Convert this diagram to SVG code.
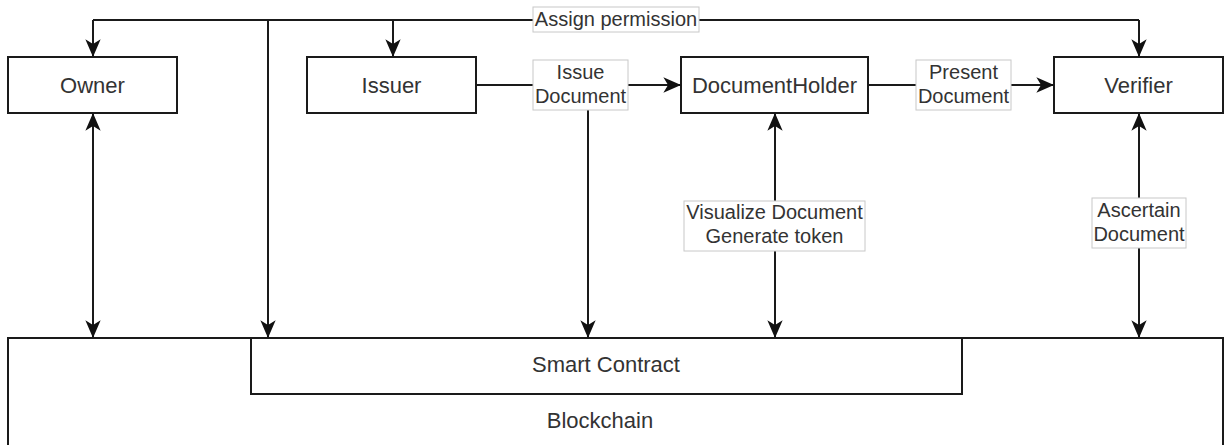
<svg xmlns="http://www.w3.org/2000/svg" width="1225" height="445" viewBox="0 0 1225 445">
  <defs>
    <marker id="arrow" markerUnits="userSpaceOnUse" markerWidth="20" markerHeight="20" viewBox="-16 -8 17 16" refX="0" refY="0" orient="auto-start-reverse">
      <path d="M0,0 L-15,-6.5 L-11,0 L-15,6.5 Z" fill="#111"/>
    </marker>
  </defs>
  <style>
    .box { fill: #ffffff; stroke: #1a1a1a; stroke-width: 2; }
    .node-text { font-family: "Liberation Sans", Arial, sans-serif; font-size: 22px; fill: #333; text-anchor: middle; }
    .edge { fill: none; stroke: #1a1a1a; stroke-width: 2; }
    .lbl-bg { fill: #ffffff; stroke: #c8c8c8; stroke-width: 1; }
    .lbl { font-family: "Liberation Sans", Arial, sans-serif; font-size: 20px; fill: #333; text-anchor: middle; }
  </style>
  <rect width="1225" height="445" fill="#ffffff"/>

  <!-- Ledger layers -->
  <g id="blockchain">
    <rect class="box" x="8" y="338" width="1215" height="120"/>
    <text class="node-text" x="600" y="428">Blockchain</text>
  </g>
  <g id="smart-contract">
    <rect class="box" x="251" y="338" width="711" height="56"/>
    <text class="node-text" x="606" y="372">Smart Contract</text>
  </g>

  <!-- Actors -->
  <g id="owner">
    <rect class="box" x="8" y="57" width="169" height="56"/>
    <text class="node-text" x="92.5" y="92.5">Owner</text>
  </g>
  <g id="issuer">
    <rect class="box" x="307" y="57" width="169" height="56"/>
    <text class="node-text" x="391.5" y="92.5">Issuer</text>
  </g>
  <g id="document-holder">
    <rect class="box" x="681" y="57" width="187" height="56"/>
    <text class="node-text" x="774.5" y="92.5">DocumentHolder</text>
  </g>
  <g id="verifier">
    <rect class="box" x="1054" y="57" width="169" height="56"/>
    <text class="node-text" x="1138.5" y="92.5">Verifier</text>
  </g>

  <!-- Connectors -->
  <g id="connectors">
    <!-- permission assignment bus -->
    <path class="edge" d="M268,338 L268,20"/>
    <path class="edge" d="M268,338 L268,20" marker-start="url(#arrow)"/>
    <path class="edge" d="M93,20 L1139,20"/>
    <path class="edge" d="M93,20 L93,57" marker-end="url(#arrow)"/>
    <path class="edge" d="M393,20 L393,57" marker-end="url(#arrow)"/>
    <path class="edge" d="M1139,20 L1139,57" marker-end="url(#arrow)"/>

    <!-- issuing flow -->
    <path class="edge" d="M476,85 L681,85" marker-end="url(#arrow)"/>
    <path class="edge" d="M588,110 L588,338" marker-end="url(#arrow)"/>
    <path class="edge" d="M868,85 L1054,85" marker-end="url(#arrow)"/>

    <!-- two-way links to the chain -->
    <path class="edge" d="M93,113 L93,338" marker-start="url(#arrow)" marker-end="url(#arrow)"/>
    <path class="edge" d="M775,113 L775,338" marker-start="url(#arrow)" marker-end="url(#arrow)"/>
    <path class="edge" d="M1139,113 L1139,338" marker-start="url(#arrow)" marker-end="url(#arrow)"/>

    <!-- edge labels -->
    <g id="lbl-assign">
      <rect class="lbl-bg" x="533" y="7" width="166" height="25"/>
      <text class="lbl" x="616" y="26">Assign permission</text>
    </g>
    <g id="lbl-issue">
      <rect class="lbl-bg" x="533" y="60" width="95" height="50"/>
      <text class="lbl" x="580.5" y="79">Issue</text>
      <text class="lbl" x="580.5" y="103">Document</text>
    </g>
    <g id="lbl-present">
      <rect class="lbl-bg" x="916" y="60" width="95" height="50"/>
      <text class="lbl" x="963.5" y="79">Present</text>
      <text class="lbl" x="963.5" y="103">Document</text>
    </g>
    <g id="lbl-visualize">
      <rect class="lbl-bg" x="684" y="201" width="181" height="50"/>
      <text class="lbl" x="774.5" y="219">Visualize Document</text>
      <text class="lbl" x="774.5" y="243">Generate token</text>
    </g>
    <g id="lbl-ascertain">
      <rect class="lbl-bg" x="1092" y="198" width="94" height="50"/>
      <text class="lbl" x="1139" y="217">Ascertain</text>
      <text class="lbl" x="1139" y="241">Document</text>
    </g>
  </g>
</svg>
